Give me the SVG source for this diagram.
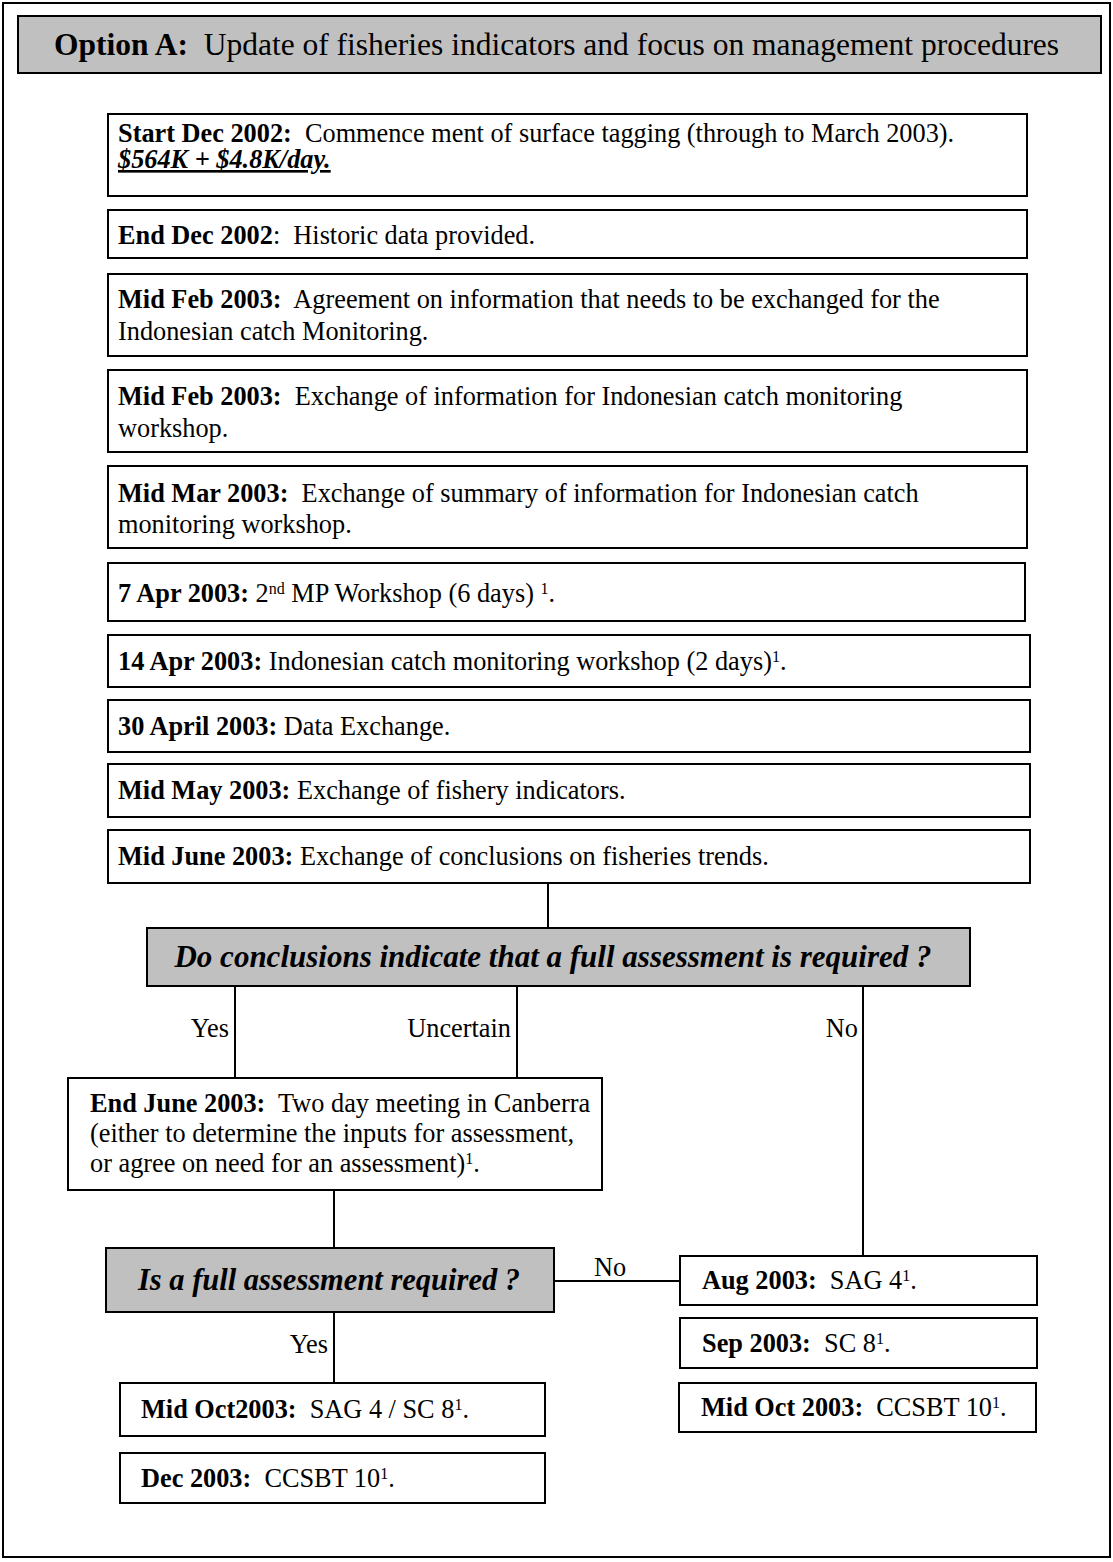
<svg xmlns="http://www.w3.org/2000/svg" width="1113" height="1562" viewBox="0 0 1113 1562">
<style>
text{font-family:"Liberation Serif","Times New Roman",serif;font-size:26.3px;fill:#000;white-space:pre}
.b{font-weight:bold}
.bi{font-weight:bold;font-style:italic}
.box{fill:#fff;stroke:#000;stroke-width:2}
.dec{fill:#c0c0c0;stroke:#000;stroke-width:2}
.q{font-weight:bold;font-style:italic;text-anchor:middle}
.sup{font-size:16px}
.ln{stroke:#000;stroke-width:2;fill:none}
.lbl{text-anchor:end}
</style>
<rect x="0" y="0" width="1113" height="1562" fill="#fff"/>
<rect id="frame" x="3" y="3" width="1107" height="1554" fill="none" stroke="#000" stroke-width="2"/>
<g id="header">
<rect class="dec" x="18" y="16" width="1083" height="57"/>
<text x="54" y="55" style="font-size:31.5px"><tspan class="b">Option A:</tspan>  Update of fisheries indicators and focus on management procedures</text>
</g>
<g id="n1">
<rect class="box" x="108" y="114" width="919" height="82"/>
<text x="118" y="142"><tspan class="b">Start Dec 2002:</tspan>  Commence ment of surface tagging (through to March 2003).</text>
<text x="118" y="168" class="bi" text-decoration="underline">$564K + $4.8K/day.</text>
</g>
<g id="n2">
<rect class="box" x="108" y="210" width="919" height="48"/>
<text x="118" y="244"><tspan class="b">End Dec 2002</tspan>:  Historic data provided.</text>
</g>
<g id="n3">
<rect class="box" x="108" y="274" width="919" height="82"/>
<text x="118" y="308"><tspan class="b">Mid Feb 2003:</tspan>  Agreement on information that needs to be exchanged for the</text>
<text x="118" y="340">Indonesian catch Monitoring.</text>
</g>
<g id="n4">
<rect class="box" x="108" y="370" width="919" height="82"/>
<text x="118" y="405"><tspan class="b">Mid Feb 2003:</tspan>  Exchange of information for Indonesian catch monitoring</text>
<text x="118" y="437">workshop.</text>
</g>
<g id="n5">
<rect class="box" x="108" y="466" width="919" height="82"/>
<text x="118" y="502"><tspan class="b">Mid Mar 2003:</tspan>  Exchange of summary of information for Indonesian catch</text>
<text x="118" y="533">monitoring workshop.</text>
</g>
<g id="n6">
<rect class="box" x="108" y="563" width="917" height="58"/>
<text x="118" y="602"><tspan class="b">7 Apr 2003:</tspan> 2<tspan class="sup" baseline-shift="super">nd</tspan> MP Workshop (6 days) <tspan class="sup" baseline-shift="super">1</tspan>.</text>
</g>
<g id="n7">
<rect class="box" x="108" y="635" width="922" height="52"/>
<text x="118" y="670"><tspan class="b">14 Apr 2003:</tspan> Indonesian catch monitoring workshop (2 days)<tspan class="sup" baseline-shift="super">1</tspan>.</text>
</g>
<g id="n8">
<rect class="box" x="108" y="700" width="922" height="52"/>
<text x="118" y="735"><tspan class="b">30 April 2003:</tspan> Data Exchange.</text>
</g>
<g id="n9">
<rect class="box" x="108" y="764" width="922" height="53"/>
<text x="118" y="799"><tspan class="b">Mid May 2003:</tspan> Exchange of fishery indicators.</text>
</g>
<g id="n10">
<rect class="box" x="108" y="830" width="922" height="53"/>
<text x="118" y="865"><tspan class="b">Mid June 2003:</tspan> Exchange of conclusions on fisheries trends.</text>
</g>
<g id="connectors">
<line class="ln" x1="548" y1="883" x2="548" y2="928"/>
<line class="ln" x1="235" y1="986" x2="235" y2="1078"/>
<line class="ln" x1="517" y1="986" x2="517" y2="1078"/>
<line class="ln" x1="863" y1="986" x2="863" y2="1256"/>
<line class="ln" x1="334" y1="1190" x2="334" y2="1248"/>
<line class="ln" x1="554" y1="1281" x2="680" y2="1281"/>
<line class="ln" x1="334" y1="1312" x2="334" y2="1383"/>
<text class="lbl" x="229" y="1037">Yes</text>
<text class="lbl" x="511" y="1037">Uncertain</text>
<text class="lbl" x="858" y="1037">No</text>
<text x="594" y="1276">No</text>
<text class="lbl" x="328" y="1353">Yes</text>
</g>
<g id="d1">
<rect class="dec" x="147" y="928" width="823" height="58"/>
<text class="q" x="553" y="967" style="font-size:31px">Do conclusions indicate that a full assessment is required ?</text>
</g>
<g id="n11">
<rect class="box" x="68" y="1078" width="534" height="112"/>
<text x="90" y="1112"><tspan class="b">End June 2003:</tspan>  Two day meeting in Canberra</text>
<text x="90" y="1142">(either to determine the inputs for assessment,</text>
<text x="90" y="1172">or agree on need for an assessment)<tspan class="sup" baseline-shift="super">1</tspan>.</text>
</g>
<g id="d2">
<rect class="dec" x="106" y="1248" width="448" height="64"/>
<text class="q" x="329" y="1290" style="font-size:30.5px">Is a full assessment required ?</text>
</g>
<g id="n12">
<rect class="box" x="680" y="1256" width="357" height="49"/>
<text x="702" y="1289"><tspan class="b">Aug 2003:</tspan>  SAG 4<tspan class="sup" baseline-shift="super">1</tspan>.</text>
</g>
<g id="n13">
<rect class="box" x="680" y="1318" width="357" height="50"/>
<text x="702" y="1352"><tspan class="b">Sep 2003:</tspan>  SC 8<tspan class="sup" baseline-shift="super">1</tspan>.</text>
</g>
<g id="n14">
<rect class="box" x="679" y="1383" width="357" height="49"/>
<text x="701" y="1416"><tspan class="b">Mid Oct 2003:</tspan>  CCSBT 10<tspan class="sup" baseline-shift="super">1</tspan>.</text>
</g>
<g id="n15">
<rect class="box" x="120" y="1383" width="425" height="53"/>
<text x="141" y="1418"><tspan class="b">Mid Oct2003:</tspan>  SAG 4 / SC 8<tspan class="sup" baseline-shift="super">1</tspan>.</text>
</g>
<g id="n16">
<rect class="box" x="120" y="1453" width="425" height="50"/>
<text x="141" y="1487"><tspan class="b">Dec 2003:</tspan>  CCSBT 10<tspan class="sup" baseline-shift="super">1</tspan>.</text>
</g>
</svg>
